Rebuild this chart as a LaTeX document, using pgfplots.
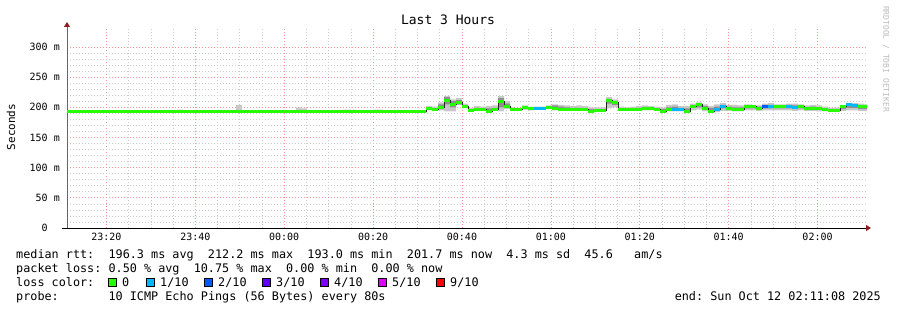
\documentclass[border=0pt]{standalone}
\usepackage{fontspec}
\setmainfont{DejaVu Sans Mono}
\usepackage{pgfplots}
\usepackage{pgfplotstable}
\pgfplotsset{compat=1.18}
\usepgfplotslibrary{fillbetween}
\usetikzlibrary{arrows.meta}
\definecolor{majgrid}{HTML}{F59595}
\definecolor{mingrid}{HTML}{CCCCCC}
\definecolor{arrowred}{HTML}{8E1E1E}
\definecolor{smokelight}{HTML}{C8C8C8}
\definecolor{smokemid}{HTML}{8F8F8F}
\definecolor{lossA}{HTML}{26FF00}
\definecolor{lossB}{HTML}{00B8FF}
\definecolor{lossC}{HTML}{0059FF}
\definecolor{lossD}{HTML}{5E00FF}
\definecolor{lossE}{HTML}{7E00FF}
\definecolor{lossF}{HTML}{DD00FF}
\definecolor{lossG}{HTML}{FF0000}
\definecolor{rrdgray}{HTML}{BBBBBB}

\pgfplotstableread{
x      med   lo   hi   mlo  mhi
-48.87 193   193  193  193  193
-24.08 193   193  196  193  193
-22.73 193   193  193  193  193
-10.80 193   193  204  193  193
-9.45  193   193  193  193  193
2.70   193   193  200  193  193
3.83   193   193  198  193  193
5.18   193   193  193  193  193
13.28  193   193  196  193  193
15.98  193   193  193  193  193
19.80  193   193  196  193  193
22.28  193   193  193  193  193
31.95  198   195  202  196  199
33.30  197   194  201  195  198
34.65  199   195  208  197  205
36.00  211   193  219  205  217
37.35  205   193  213  200  210
38.70  208   204  215  205  212
40.05  202   198  206  199  203
41.40  195   193  199  194  197
42.75  195.5 194  202  195  199
44.10  196   194  201  195  198
45.45  193.5 193  202  194  198
46.80  196   194  203  195  199
48.15  209.5 193  219  200  215
49.50  202   197  210  199  206
50.85  196   194  200  195  198
52.20  196   194  199  195  197
53.55  200   196  203  197  201
54.90  197.5 195  201  196  199
56.25  198.5 196  201  197  199
57.60  198.5 196  201  197  199
58.95  200   197  203  198  201
60.30  198.5 195  205  197  203
61.65  197   195  204  196  201
63.00  196   194  203  195  200
64.35  195.5 194  202  195  199
65.70  195.5 194  203  195  199
67.05  195.5 194  202  195  198
68.40  192.5 192  200  194  197
69.75  194.5 193  200  194  197
71.10  194.5 193  200  194  197
72.45  211.5 198  217  206  214
73.80  208.5 200  213  204  210
75.15  196   194  201  195  198
76.50  195.5 194  200  195  198
77.85  195.5 194  201  195  198
79.20  195.5 194  202  195  199
80.55  198   195  203  196  200
81.90  198   195  202  196  200
83.25  196   194  201  195  198
84.60  193   192  200  194  197
85.95  196   193  204  195  200
87.30  196   193  205  195  201
88.65  196   193  202  195  199
90.00  193.5 192  202  194  198
91.35  202   195  206  199  204
92.70  204.5 196  208  200  206
94.05  198   193  205  196  202
95.40  192.5 192  202  194  199
96.75  196   192  205  195  201
98.10  202   194  207  198  204
99.45  198   194  204  196  201
100.80 196   193  204  195  200
102.15 196   193  203  195  200
103.50 201   195  205  198  203
104.85 201   195  204  198  202
106.20 198.5 194  203  196  201
107.55 202   195  206  198  204
108.90 202   195  207  198  204
110.25 202   195  205  198  203
111.60 202   195  205  198  203
112.95 202   195  206  198  204
114.30 200   194  206  197  203
115.65 202   195  205  198  203
117.00 197.5 194  203  196  200
118.35 197.5 194  204  196  201
119.70 197.5 193  203  196  200
121.05 195.5 193  201  195  198
122.40 194   192  199  194  197
123.75 194   192  200  194  197
125.10 200.5 194  204  197  202
126.45 204.5 195  207  199  205
127.80 203.5 195  207  199  205
129.15 201   194  206  197  203
130.50 201   194  205  197  203
131.13 201   194  205  197  203
}\rtt

\begin{document}
\frenchspacing
\begin{tikzpicture}
\path (0,0) rectangle (897pt,310pt);
\begin{axis}[
  at={(67pt,82pt)}, anchor=south west,
  scale only axis, width=800pt, height=201pt,
  xmin=-48.87, xmax=131.13, ymin=0, ymax=333,
  axis x line*=bottom, axis y line*=left,
  x axis line style={black, line width=0.8pt, shorten <=-5pt, shorten >=-4pt, -{Triangle[length=5pt,width=6pt,color=arrowred]}},
  y axis line style={black!60, line width=0.8pt, shorten >=-5pt, -{Triangle[length=5pt,width=6pt,color=arrowred]}},
  xtick={-40,-20,0,20,40,60,80,100,120},
  xticklabels={23:20,23:40,00:00,00:20,00:40,01:00,01:20,01:40,02:00},
  minor x tick num=3,
  ytick={0,50,100,150,200,250,300},
  yticklabels={0\hphantom{~m},50 m,100 m,150 m,200 m,250 m,300 m},
  minor y tick num=4,
  major tick length=0pt, minor tick length=0pt,
  grid=both,
  every major grid/.style={color=majgrid, line width=0.7pt, dash pattern=on 1pt off 2pt},
  every minor grid/.style={color=mingrid, line width=0.7pt, dash pattern=on 1pt off 2pt},
  xticklabel style={font=\fontsize{10}{12}\selectfont, anchor=north, inner sep=0pt, yshift=-5pt},
  yticklabel style={font=\fontsize{10}{12}\selectfont, anchor=east, inner sep=0pt, xshift=-7pt},
]
\addplot[const plot, draw=none, name path=hi] table[x=x,y=hi]{\rtt};
\addplot[const plot, draw=none, name path=lo] table[x=x,y=lo]{\rtt};
\addplot[smokelight, draw=none] fill between[of=hi and lo];
\addplot[const plot, draw=none, name path=mhi] table[x=x,y=mhi]{\rtt};
\addplot[const plot, draw=none, name path=mlo] table[x=x,y=mlo]{\rtt};
\addplot[smokemid, draw=none] fill between[of=mhi and mlo];
\addplot[const plot mark left, black!85, line width=1pt] table[x=x,y=med]{\rtt};
\addplot[jump mark left, lossA, line width=3pt] table[x=x,y=med]{\rtt};
\addplot[lossB, line width=3pt] coordinates {(56.25,198.5) (58.95,198.5)};
\addplot[lossB, line width=3pt] coordinates {(87.30,196) (90.00,196)};
\addplot[lossB, line width=3pt] coordinates {(96.75,196) (98.10,196)};
\addplot[lossB, line width=3pt] coordinates {(98.10,202) (99.45,202)};
\addplot[lossC, line width=3pt] coordinates {(107.55,202) (108.90,202)};
\addplot[lossB, line width=3pt] coordinates {(108.90,202) (110.25,202)};
\addplot[lossB, line width=3pt] coordinates {(112.95,202) (114.30,202)};
\addplot[lossB, line width=3pt] coordinates {(114.30,200) (115.65,200)};
\addplot[lossB, line width=3pt] coordinates {(126.45,204.5) (127.80,204.5)};
\addplot[lossB, line width=3pt] coordinates {(127.80,203.5) (129.15,203.5)};
\end{axis}
% title and labels
\node[font=\fontsize{13}{15}\selectfont] at (448pt,290pt) {Last 3 Hours};
\node[font=\fontsize{11}{13}\selectfont, rotate=90] at (11pt,183pt) {Seconds};
\node[font=\fontsize{8}{10}\selectfont, rotate=-90, text=rrdgray] at (886pt,251pt) {RRDTOOL / TOBI OETIKER};
% legend
\begin{scope}[every node/.style={font=\fontsize{11.8}{14}\selectfont, anchor=base west, inner sep=0pt}]
\node at (16pt,51.5pt) {median rtt:~~196.3 ms avg~~212.2 ms max~~193.0 ms min~~201.7 ms now~~4.3 ms sd~~45.6~~~am/s};
\node at (16pt,37.5pt) {packet loss: 0.50 \% avg~~10.75 \% max~~0.00 \% min~~0.00 \% now};
\node at (16pt,23.5pt) {loss color:};
\node at (16pt,9.5pt) {probe:~~~~~~~10 ICMP Echo Pings (56 Bytes) every 80s};
\node[anchor=base east] at (881pt,9.5pt) {end: Sun Oct 12 02:11:08 2025};
\foreach \xx/\cc/\tt in {108/lossA/0,146/lossB/1\slash 10,204/lossC/2\slash 10,262/lossD/3\slash 10,320/lossE/4\slash 10,378/lossF/5\slash 10,436/lossG/9\slash 10}{
  \filldraw[fill=\cc, draw=black, line width=0.8pt] (\xx pt,24pt) rectangle ++(8pt,8pt);
  \node at ({\xx pt+14pt},23.5pt) {\tt};
}
\end{scope}
\end{tikzpicture}
\end{document}
